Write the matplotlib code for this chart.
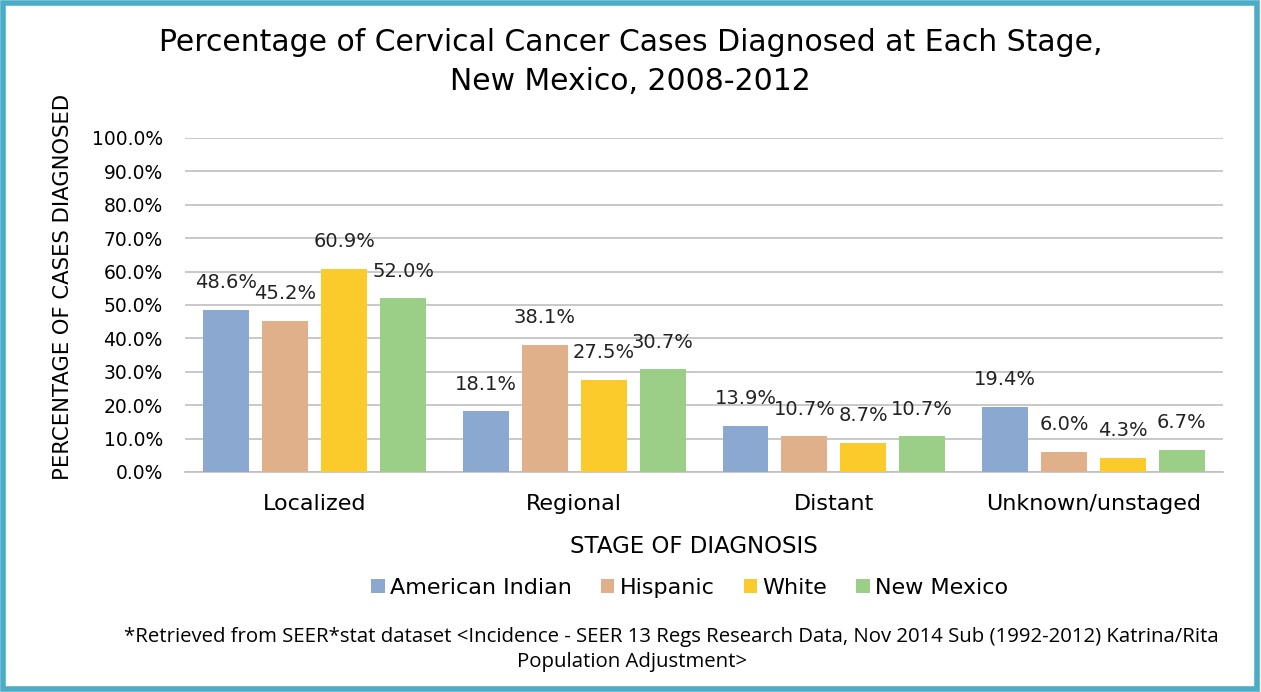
import numpy as np
import matplotlib
matplotlib.use('Agg')
import matplotlib.pyplot as plt
from matplotlib.patches import Rectangle

stages = ['Localized', 'Regional', 'Distant', 'Unknown/unstaged']
groups = ['American Indian', 'Hispanic', 'White', 'New Mexico']
american_indian = [48.6, 18.1, 13.9, 19.4]
hispanic = [45.2, 38.1, 10.7, 6.0]
white = [60.9, 27.5, 8.7, 4.3]
new_mexico = [52.0, 30.7, 10.7, 6.7]
colors = ['#8BA9D0', '#DFB08A', '#FACB2A', '#9BCF87']

plt.rcParams['font.family'] = ['DejaVu Sans']

fig = plt.figure(figsize=(12.61, 6.92), dpi=100)
ax = fig.add_axes([0.1467, 0.318, 0.8233, 0.4826])

x = np.arange(len(stages))
step = 0.227
width = 0.177
series = [american_indian, hispanic, white, new_mexico]
for i, vals in enumerate(series):
    pos = x + (i - 1.5) * step
    bars = ax.bar(pos, vals, width, color=colors[i], label=groups[i], zorder=3)
    for b, v in zip(bars, vals):
        ax.text(b.get_x() + b.get_width() / 2, v + 5.3, '%.1f%%' % v,
                ha='center', va='bottom', fontsize=14, color='#222222')

ax.set_xlim(-0.5, 3.5)
ax.set_ylim(0, 100)
ax.set_yticks(np.arange(0, 101, 10))
ax.set_yticklabels(['%.1f%%' % t for t in np.arange(0, 101, 10)], fontsize=13.5)
ax.set_xticks(x)
ax.set_xticklabels(stages, fontsize=16)
ax.tick_params(length=0)
ax.tick_params(axis='y', pad=16)
ax.tick_params(axis='x', pad=16)
ax.grid(axis='y', color='#BFBFBF', linewidth=1.2, zorder=0)
for s in ['top', 'right', 'left']:
    ax.spines[s].set_visible(False)
ax.spines['bottom'].set_color('#BFBFBF')
ax.spines['bottom'].set_linewidth(1.2)

ax.set_ylabel('PERCENTAGE OF CASES DIAGNOSED', fontsize=15.2)
ax.yaxis.set_label_coords(-0.108, 0.554)
ax.set_xlabel('STAGE OF DIAGNOSIS', fontsize=16.5)
ax.xaxis.set_label_coords(0.49, -0.19)

fig.text(0.5, 0.91, 'Percentage of Cervical Cancer Cases Diagnosed at Each Stage,\nNew Mexico, 2008-2012',
         ha='center', va='center', fontsize=21.5, linespacing=1.45)

fig.legend(loc='center', bbox_to_anchor=(0.547, 0.15), ncol=4, frameon=False,
           fontsize=16, handlelength=0.6, handleheight=0.6, handletextpad=0.25,
           columnspacing=1.3)

foot = ['*Retrieved from SEER*stat dataset <Incidence - SEER 13 Regs Research Data, Nov 2014 Sub (1992-2012) Katrina/Rita',
        'Population Adjustment>']
fig.text(671 / 1261, 1 - 637 / 692, foot[0], ha='center', va='center', fontsize=14.7,
         family=['Open Sans', 'DejaVu Sans'])
fig.text(632 / 1261, 1 - 662 / 692, foot[1], ha='center', va='center', fontsize=14.7,
         family=['Open Sans', 'DejaVu Sans'])

fig.patches.append(Rectangle((0.002, 0.004), 0.995, 0.991, transform=fig.transFigure,
                             fill=False, edgecolor='#4BACC6', linewidth=4))

fig.savefig('out.png', dpi=100)
